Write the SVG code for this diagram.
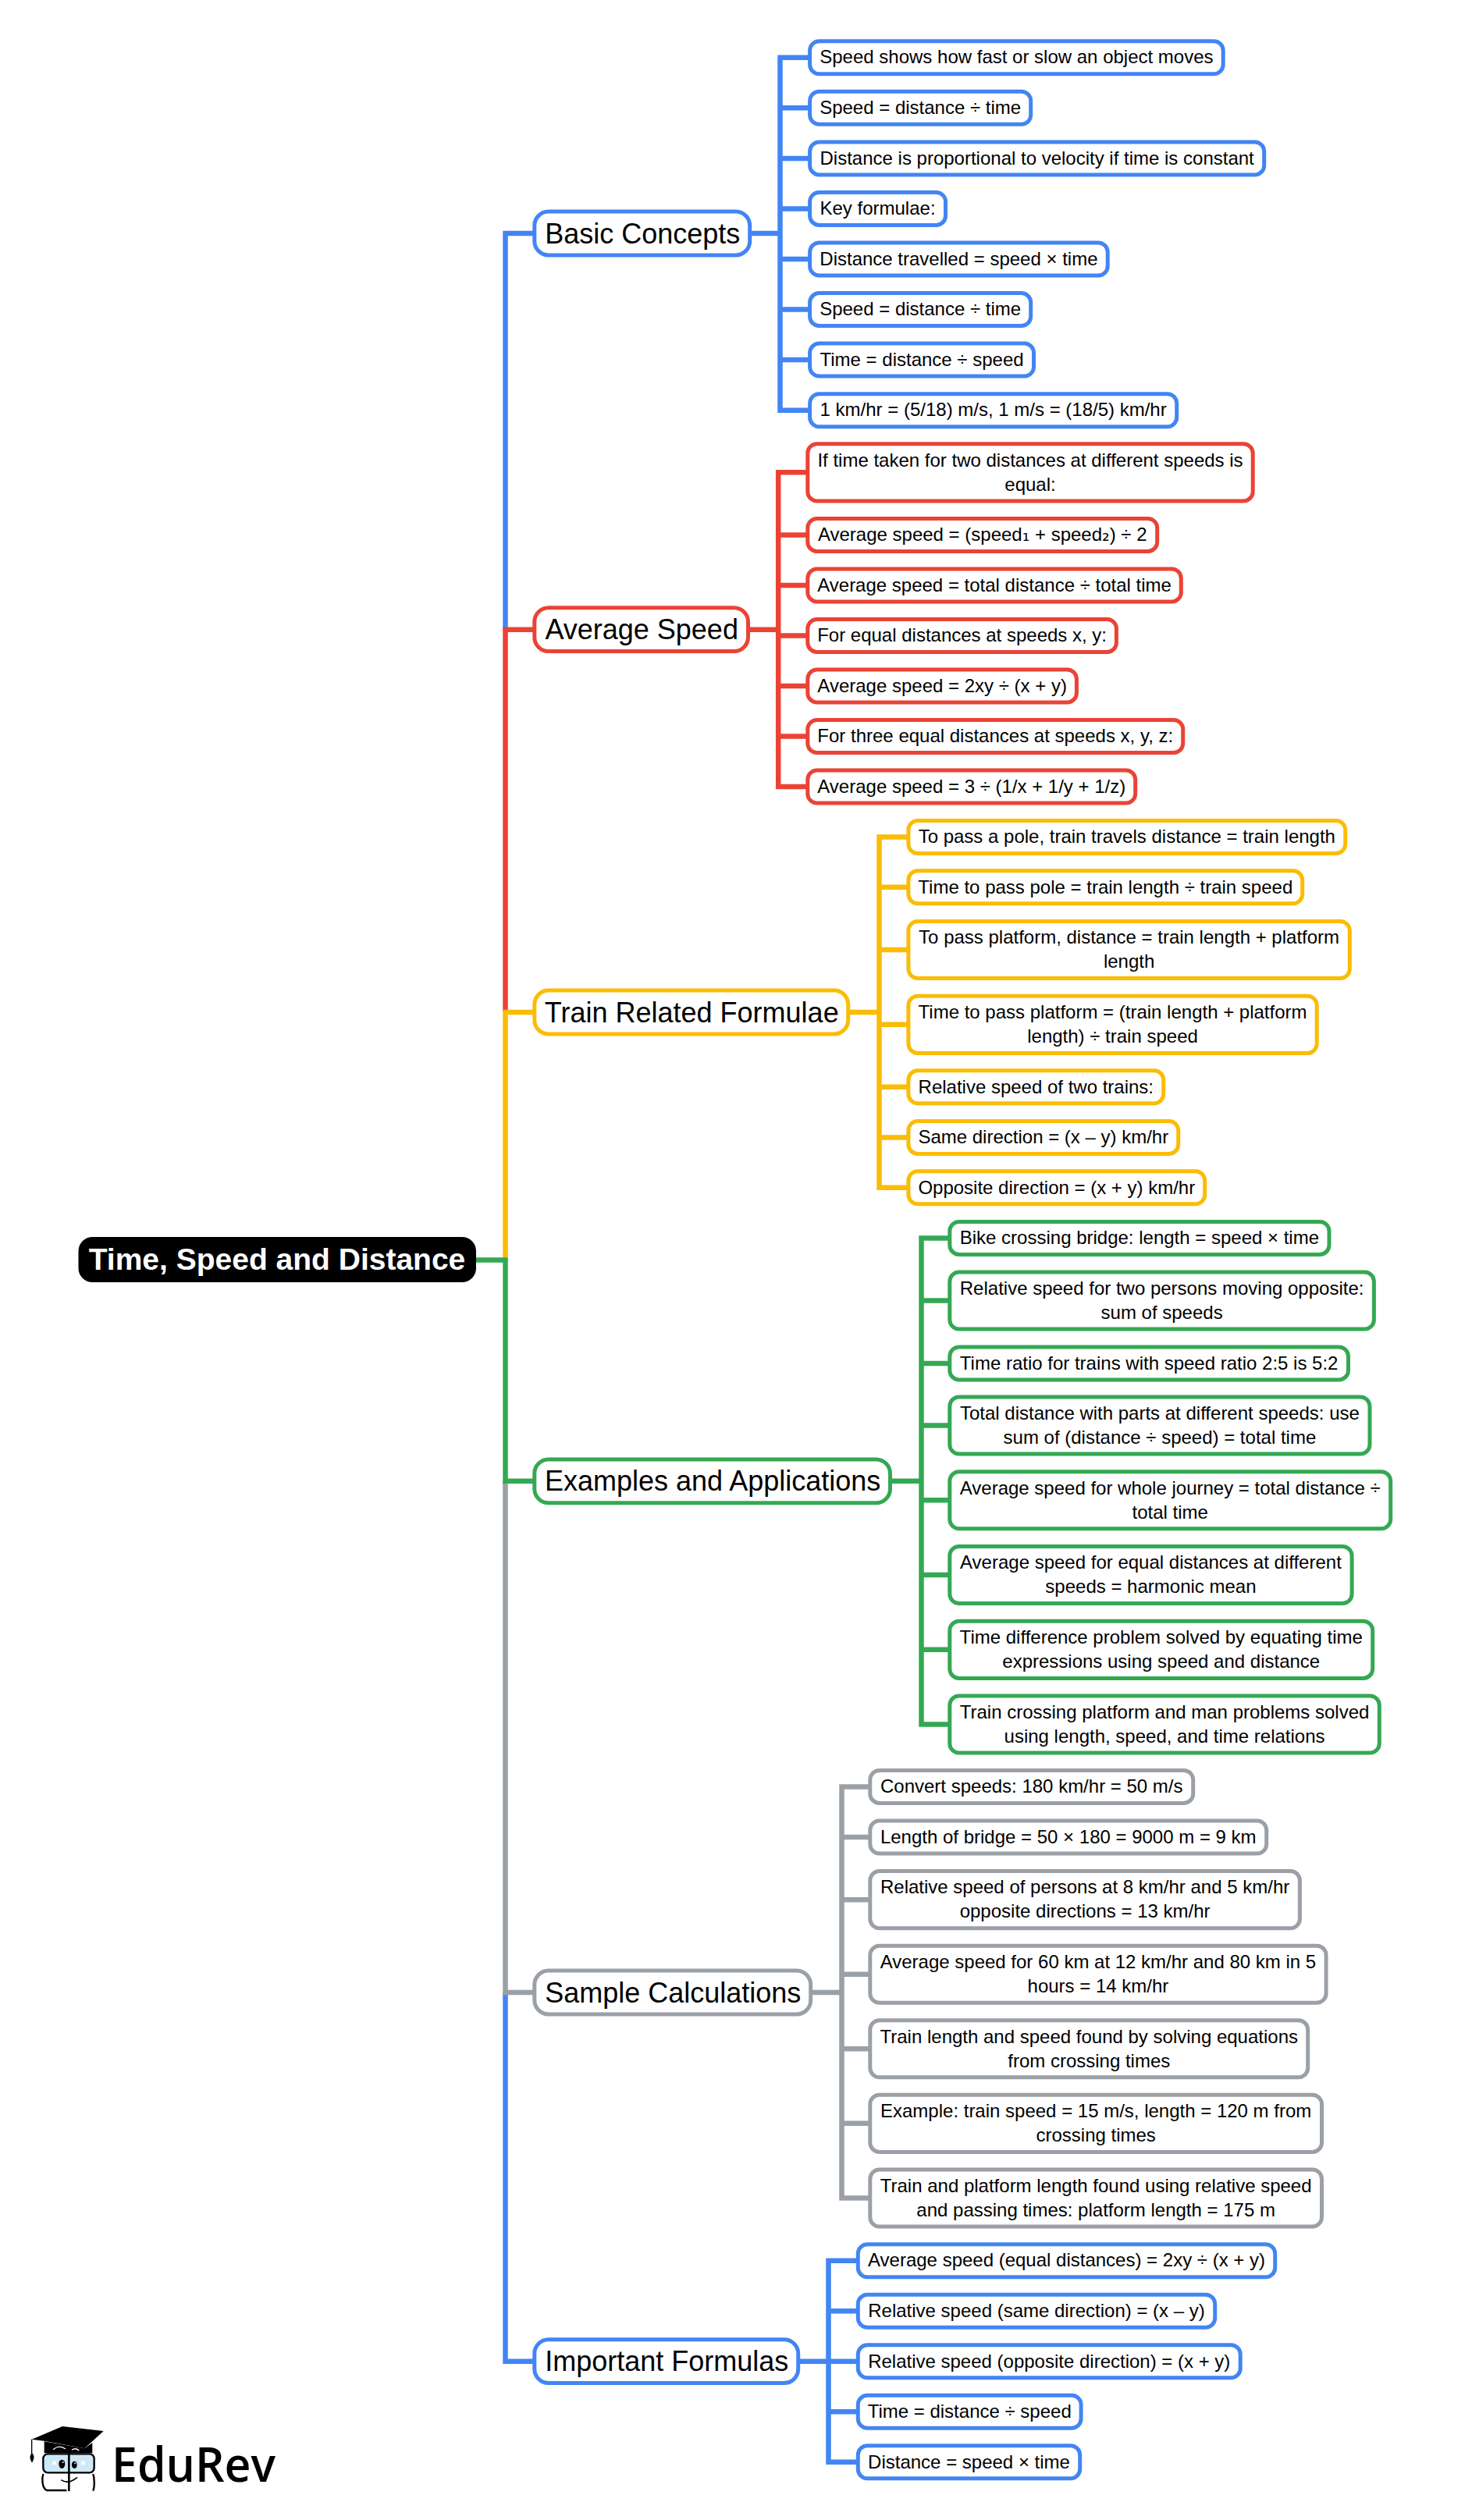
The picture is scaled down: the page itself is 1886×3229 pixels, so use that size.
<svg xmlns="http://www.w3.org/2000/svg" width="1886" height="3229" viewBox="0 0 1886 3229">
<style>
text{font-family:"Liberation Sans",Arial,sans-serif;fill:#000;text-anchor:middle}
.c text{font-size:24px;transform:translate(-.5px,.3px)}
.m text{font-size:36px;transform:translate(0,1px)}
.c rect,.m rect{fill:#fff;stroke-width:5}
.c rect{rx:12px;ry:12px}
.m rect{rx:18px;ry:18px}
.blue rect{stroke:#4285F4}.red rect{stroke:#EA4335}.yellow rect{stroke:#FBBC04}.green rect{stroke:#34A853}.grey rect{stroke:#9AA0A6}
#connectors path{fill:none;stroke-width:6.5;stroke-linejoin:miter}
.lb{stroke:#4285F4}.lr{stroke:#EA4335}.ly{stroke:#FBBC04}.lg{stroke:#34A853}.ls{stroke:#9AA0A6}
.sub{font-family:"DejaVu Sans",sans-serif}
</style>
<rect width="1886" height="3229" fill="#fff"/>
<g id="connectors">
<path class="lb" d="M684,299H647.5V807"/>
<path class="lr" d="M684,806.7H647.5V1297"/>
<path class="ly" d="M684,1297H647.5V1614.5"/>
<path class="lb" d="M684,3025.7H647.5V2553"/>
<path class="ls" d="M684,2553H647.5V1897.8"/>
<path class="lg" d="M684,1897.8H647.5V1614.5H610"/>
<path class="lb" d="M963,299H999.5M1036.3,73.7H999.5V525.7H1036.3M999.5,138.3H1036.3M999.5,202.9H1036.3M999.5,267.4H1036.3M999.5,332H1036.3M999.5,396.6H1036.3M999.5,461.1H1036.3"/>
<path class="lr" d="M960.8,806.7H997.2M1033.5,605.35H997.2V1008H1033.5M997.2,685.4H1033.5M997.2,749.9H1033.5M997.2,814.4H1033.5M997.2,878.9H1033.5M997.2,943.5H1033.5"/>
<path class="ly" d="M1089,1297H1126.5M1162.6,1072.5H1126.5V1521.8H1162.6M1126.5,1136.8H1162.6M1126.5,1216.95H1162.6M1126.5,1312.85H1162.6M1126.5,1392.8H1162.6M1126.5,1457.4H1162.6"/>
<path class="lg" d="M1142.8,1897.8H1180.5M1215.5,1586.4H1180.5V2209.45H1215.5M1180.5,1666.55H1215.5M1180.5,1746.9H1215.5M1180.5,1826.55H1215.5M1180.5,1922.25H1215.5M1180.5,2018.05H1215.5M1180.5,2113.85H1215.5"/>
<path class="ls" d="M1041,2553H1078.5M1113.5,2289.4H1078.5V2816.45H1113.5M1078.5,2354H1113.5M1078.5,2434.15H1113.5M1078.5,2529.75H1113.5M1078.5,2625.25H1113.5M1078.5,2720.85H1113.5"/>
<path class="lb" d="M1025,3025.7H1061.5M1098,2896.7H1061.5V3154.8H1098M1061.5,2961.3H1098M1061.5,3025.8H1098M1061.5,3090.3H1098"/>
</g>
<g id="root"><rect x="100.5" y="1585" width="509.5" height="58" rx="18" ry="18" fill="#000"/><text x="355" y="1626.5" style="font-size:39px;font-weight:700;fill:#fff">Time, Speed and Distance</text></g>

<g id="basic" class="m blue"><rect x="684.8" y="271.1" width="275.9" height="55.8"/><text x="823.25" y="310.5">Basic Concepts</text></g>
<g id="b1" class="c blue"><rect x="1037.6" y="52.7" width="529.6" height="42"/><text x="1302.9" y="81.2">Speed shows how fast or slow an object moves</text></g>
<g id="b2" class="c blue"><rect x="1037.6" y="117.3" width="283.1" height="42"/><text x="1179.65" y="145.8">Speed = distance ÷ time</text></g>
<g id="b3" class="c blue"><rect x="1037.6" y="181.9" width="582.1" height="42"/><text x="1329.15" y="210.4">Distance is proportional to velocity if time is constant</text></g>
<g id="b4" class="c blue"><rect x="1037.6" y="246.4" width="173.9" height="42"/><text x="1125.05" y="274.9">Key formulae:</text></g>
<g id="b5" class="c blue"><rect x="1037.6" y="311" width="381.6" height="42"/><text x="1228.9" y="339.5">Distance travelled = speed × time</text></g>
<g id="b6" class="c blue"><rect x="1037.6" y="375.6" width="283.1" height="42"/><text x="1179.65" y="404.1">Speed = distance ÷ time</text></g>
<g id="b7" class="c blue"><rect x="1037.6" y="440.1" width="286.9" height="42"/><text x="1181.55" y="468.6">Time = distance ÷ speed</text></g>
<g id="b8" class="c blue"><rect x="1037.6" y="504.7" width="470.1" height="42"/><text x="1273.15" y="533.2">1 km/hr = (5/18) m/s, 1 m/s = (18/5) km/hr</text></g>

<g id="avg" class="m red"><rect x="684.8" y="778.8" width="273.7" height="55.8"/><text x="822.15" y="818.2">Average Speed</text></g>
<g id="r1" class="c red"><rect x="1034.8" y="568.8" width="570.4" height="73.1"/><text x="1320.5" y="597.35">If time taken for two distances at different speeds is</text><text x="1320.5" y="628.35">equal:</text></g>
<g id="r2" class="c red"><rect x="1034.8" y="664.4" width="447.9" height="42"/><text x="1259.25" y="692.9">Average speed = (speed<tspan class="sub">₁</tspan> + speed<tspan class="sub">₂</tspan>) ÷ 2</text></g>
<g id="r3" class="c red"><rect x="1034.8" y="728.9" width="478.5" height="42"/><text x="1274.55" y="757.4">Average speed = total distance ÷ total time</text></g>
<g id="r4" class="c red"><rect x="1034.8" y="793.4" width="395.6" height="42"/><text x="1233.1" y="821.9">For equal distances at speeds x, y:</text></g>
<g id="r5" class="c red"><rect x="1034.8" y="857.9" width="344.6" height="42"/><text x="1207.6" y="886.4">Average speed = 2xy ÷ (x + y)</text></g>
<g id="r6" class="c red"><rect x="1034.8" y="922.5" width="480.9" height="42"/><text x="1275.75" y="951">For three equal distances at speeds x, y, z:</text></g>
<g id="r7" class="c red"><rect x="1034.8" y="987" width="419.9" height="42"/><text x="1245.25" y="1015.5">Average speed = 3 ÷ (1/x + 1/y + 1/z)</text></g>

<g id="train" class="m yellow"><rect x="684.8" y="1269.1" width="401.9" height="55.8"/><text x="886.25" y="1308.5">Train Related Formulae</text></g>
<g id="y1" class="c yellow"><rect x="1163.9" y="1051.5" width="559.8" height="42"/><text x="1444.3" y="1080">To pass a pole, train travels distance = train length</text></g>
<g id="y2" class="c yellow"><rect x="1163.9" y="1115.8" width="504.8" height="42"/><text x="1416.8" y="1144.3">Time to pass pole = train length ÷ train speed</text></g>
<g id="y3" class="c yellow"><rect x="1163.9" y="1180.4" width="565.4" height="73.1"/><text x="1447.1" y="1208.95">To pass platform, distance = train length + platform</text><text x="1447.1" y="1239.95">length</text></g>
<g id="y4" class="c yellow"><rect x="1163.9" y="1276.3" width="523.3" height="73.1"/><text x="1426.05" y="1304.85">Time to pass platform = (train length + platform</text><text x="1426.05" y="1335.85">length) ÷ train speed</text></g>
<g id="y5" class="c yellow"><rect x="1163.9" y="1371.8" width="326.8" height="42"/><text x="1327.8" y="1400.3">Relative speed of two trains:</text></g>
<g id="y6" class="c yellow"><rect x="1163.9" y="1436.4" width="345.8" height="42"/><text x="1337.3" y="1464.9">Same direction = (x – y) km/hr</text></g>
<g id="y7" class="c yellow"><rect x="1163.9" y="1500.8" width="379.8" height="42"/><text x="1354.3" y="1529.3">Opposite direction = (x + y) km/hr</text></g>

<g id="examples" class="m green"><rect x="684.8" y="1869.9" width="455.7" height="55.8"/><text x="913.15" y="1909.3">Examples and Applications</text></g>
<g id="g1" class="c green"><rect x="1216.8" y="1565.4" width="486.2" height="42"/><text x="1460.4" y="1593.9">Bike crossing bridge: length = speed × time</text></g>
<g id="g2" class="c green"><rect x="1216.8" y="1630" width="543.6" height="73.1"/><text x="1489.1" y="1658.55">Relative speed for two persons moving opposite:</text><text x="1489.1" y="1689.55">sum of speeds</text></g>
<g id="g3" class="c green"><rect x="1216.8" y="1725.9" width="510.7" height="42"/><text x="1472.65" y="1754.4">Time ratio for trains with speed ratio 2:5 is 5:2</text></g>
<g id="g4" class="c green"><rect x="1216.8" y="1790" width="538.2" height="73.1"/><text x="1486.4" y="1818.55">Total distance with parts at different speeds: use</text><text x="1486.4" y="1849.55">sum of (distance ÷ speed) = total time</text></g>
<g id="g5" class="c green"><rect x="1216.8" y="1885.7" width="564.9" height="73.1"/><text x="1499.75" y="1914.25">Average speed for whole journey = total distance ÷</text><text x="1499.75" y="1945.25">total time</text></g>
<g id="g6" class="c green"><rect x="1216.8" y="1981.5" width="515.3" height="73.1"/><text x="1474.95" y="2010.05">Average speed for equal distances at different</text><text x="1474.95" y="2041.05">speeds = harmonic mean</text></g>
<g id="g7" class="c green"><rect x="1216.8" y="2077.3" width="541.9" height="73.1"/><text x="1488.25" y="2105.85">Time difference problem solved by equating time</text><text x="1488.25" y="2136.85">expressions using speed and distance</text></g>
<g id="g8" class="c green"><rect x="1216.8" y="2172.9" width="550.5" height="73.1"/><text x="1492.55" y="2201.45">Train crossing platform and man problems solved</text><text x="1492.55" y="2232.45">using length, speed, and time relations</text></g>

<g id="sample" class="m grey"><rect x="684.8" y="2525.1" width="353.9" height="55.8"/><text x="862.25" y="2564.5">Sample Calculations</text></g>
<g id="s1" class="c grey"><rect x="1114.8" y="2268.4" width="413.9" height="42"/><text x="1322.25" y="2296.9">Convert speeds: 180 km/hr = 50 m/s</text></g>
<g id="s2" class="c grey"><rect x="1114.8" y="2333" width="507.9" height="42"/><text x="1369.25" y="2361.5">Length of bridge = 50 × 180 = 9000 m = 9 km</text></g>
<g id="s3" class="c grey"><rect x="1114.8" y="2397.6" width="550.6" height="73.1"/><text x="1390.6" y="2426.15">Relative speed of persons at 8 km/hr and 5 km/hr</text><text x="1390.6" y="2457.15">opposite directions = 13 km/hr</text></g>
<g id="s4" class="c grey"><rect x="1114.8" y="2493.2" width="584.3" height="73.1"/><text x="1407.45" y="2521.75">Average speed for 60 km at 12 km/hr and 80 km in 5</text><text x="1407.45" y="2552.75">hours = 14 km/hr</text></g>
<g id="s5" class="c grey"><rect x="1114.8" y="2588.7" width="560.9" height="73.1"/><text x="1395.75" y="2617.25">Train length and speed found by solving equations</text><text x="1395.75" y="2648.25">from crossing times</text></g>
<g id="s6" class="c grey"><rect x="1114.8" y="2684.3" width="578.7" height="73.1"/><text x="1404.65" y="2712.85">Example: train speed = 15 m/s, length = 120 m from</text><text x="1404.65" y="2743.85">crossing times</text></g>
<g id="s7" class="c grey"><rect x="1114.8" y="2779.9" width="578.7" height="73.1"/><text x="1404.65" y="2808.45">Train and platform length found using relative speed</text><text x="1404.65" y="2839.45">and passing times: platform length = 175 m</text></g>

<g id="important" class="m blue"><rect x="684.8" y="2997.8" width="337.9" height="55.8"/><text x="854.25" y="3037.2">Important Formulas</text></g>
<g id="i1" class="c blue"><rect x="1099.3" y="2875.7" width="534.4" height="42"/><text x="1367" y="2904.2">Average speed (equal distances) = 2xy ÷ (x + y)</text></g>
<g id="i2" class="c blue"><rect x="1099.3" y="2940.3" width="457.4" height="42"/><text x="1328.5" y="2968.8">Relative speed (same direction) = (x – y)</text></g>
<g id="i3" class="c blue"><rect x="1099.3" y="3004.8" width="489.9" height="42"/><text x="1344.75" y="3033.3">Relative speed (opposite direction) = (x + y)</text></g>
<g id="i4" class="c blue"><rect x="1099.3" y="3069.3" width="285.8" height="42"/><text x="1242.7" y="3097.8">Time = distance ÷ speed</text></g>
<g id="i5" class="c blue"><rect x="1099.3" y="3133.8" width="284.4" height="42"/><text x="1242" y="3162.3">Distance = speed × time</text></g>

<g id="logo">
<g transform="translate(0,3000) scale(.3333)">
<path d="M170,385V430H355V390L325,412Z" fill="#000"/>
<path d="M122,377L240,327L398,345L325,412L170,383Z" fill="#000"/>
<path d="M204,416Q228,396 252,414M276,418Q290,408 304,420" fill="none" stroke="#fff" stroke-width="4"/>
<path d="M122,377V436" fill="none" stroke="#000" stroke-width="4"/>
<path d="M123,430C112,440 114,452 123,467C132,452 134,440 123,430Z" fill="#000"/>
<rect x="166" y="433" width="196" height="72" rx="18" ry="18" fill="#cfe8f7" stroke="#000" stroke-width="7"/>
<path d="M166,510C160,530 162,565 180,573H256M358,510C364,530 364,560 358,575" fill="none" stroke="#000" stroke-width="7"/>
<path d="M265,428V576" fill="none" stroke="#000" stroke-width="8"/>
<path d="M235,533Q262,552 297,523" fill="none" stroke="#000" stroke-width="5"/>
<ellipse cx="238" cy="472" rx="12" ry="17" fill="#000"/><ellipse cx="286" cy="475" rx="10" ry="14" fill="#000"/>
<circle cx="242" cy="465" r="3" fill="#fff"/><circle cx="289" cy="469" r="3" fill="#fff"/>
<rect x="202" y="461" width="14" height="14" fill="#fff"/><rect x="312" y="461" width="14" height="14" fill="#fff"/>
</g>
<text x="143" y="3180" textLength="210" lengthAdjust="spacingAndGlyphs" style="font-family:'Open Sans',sans-serif;font-size:62px;font-weight:600;text-anchor:start">EduRev</text>
</g>
</svg>
